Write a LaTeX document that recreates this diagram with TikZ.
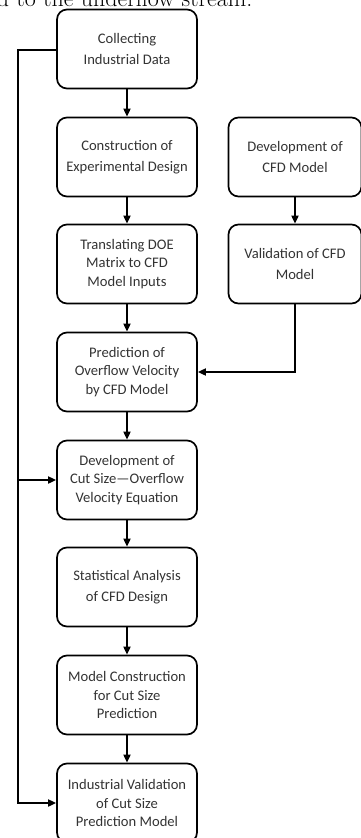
\documentclass[tikz,border=0pt]{standalone}
\usepackage{fontspec}
\newfontfamily\boxfont{Carlito}
\usetikzlibrary{arrows.meta}

\newcommand{\stagebox}{\boxfont\fontsize{14.6}{18.5}\selectfont}

\begin{document}
\begin{tikzpicture}[x=1pt, y=-1pt, line width=1.7pt,
  stage/.style={draw, rounded corners=10pt, minimum width=140pt, minimum height=79pt,
    align=center, inner sep=2pt, font=\stagebox, text=black!80},
  side/.style={stage, minimum width=133pt},
  flow/.style={-{Triangle[length=8pt, width=7pt]}}]
  \useasboundingbox (0,0) rectangle (361,838);
  % leftover line of the running text above the figure
  \node[anchor=base west, inner sep=0pt, font=\fontsize{24}{26}\selectfont] (cut) at (-4,6.5) {d to the underflow stream.};
  % main column
  \node[stage] (b1) at (127,49) {Collecting\\[3pt]Industrial Data};
  \node[stage] (b2) at (127,157) {Construction of\\[3pt]Experimental Design};
  \node[stage] (b3) at (127,264) {Translating DOE\\Matrix to CFD\\Model Inputs};
  \node[stage] (b4) at (127,372) {Prediction of\\Overflow Velocity\\by CFD Model};
  \node[stage] (b5) at (127,480) {Development of\\Cut Size—Overflow\\Velocity Equation};
  \node[stage] (b6) at (127,587) {Statistical Analysis\\[2pt]of CFD Design};
  \node[stage] (b7) at (127,695) {Model Construction\\for Cut Size\\Prediction};
  \node[stage] (b8) at (127,803) {Industrial Validation\\of Cut Size\\Prediction Model};
  % CFD column
  \node[side] (c1) at (295,157) {Development of\\[3pt]CFD Model};
  \node[side] (c2) at (295,264) {Validation of CFD\\[3pt]Model};
  \foreach \a/\b in {b1/b2, b2/b3, b3/b4, b4/b5, b5/b6, b6/b7, b7/b8, c1/c2}
    \draw[flow] (\a) -- (\b);
  % CFD model feeds the prediction
  \coordinate (cturn) at (c2.south |- b4.east);
  \draw[flow] (c2.south) -- (cturn) -- (b4.east);
  % industrial data return line
  \coordinate (ftop) at (18,50);
  \coordinate (fmid) at (ftop |- b5.west);
  \coordinate (fbot) at (ftop |- b8.west);
  \draw[flow] (b1.west |- ftop) -- (ftop) -- (fbot) -- (b8.west);
  \draw[flow] (fmid) -- (b5.west);
\end{tikzpicture}
\end{document}
